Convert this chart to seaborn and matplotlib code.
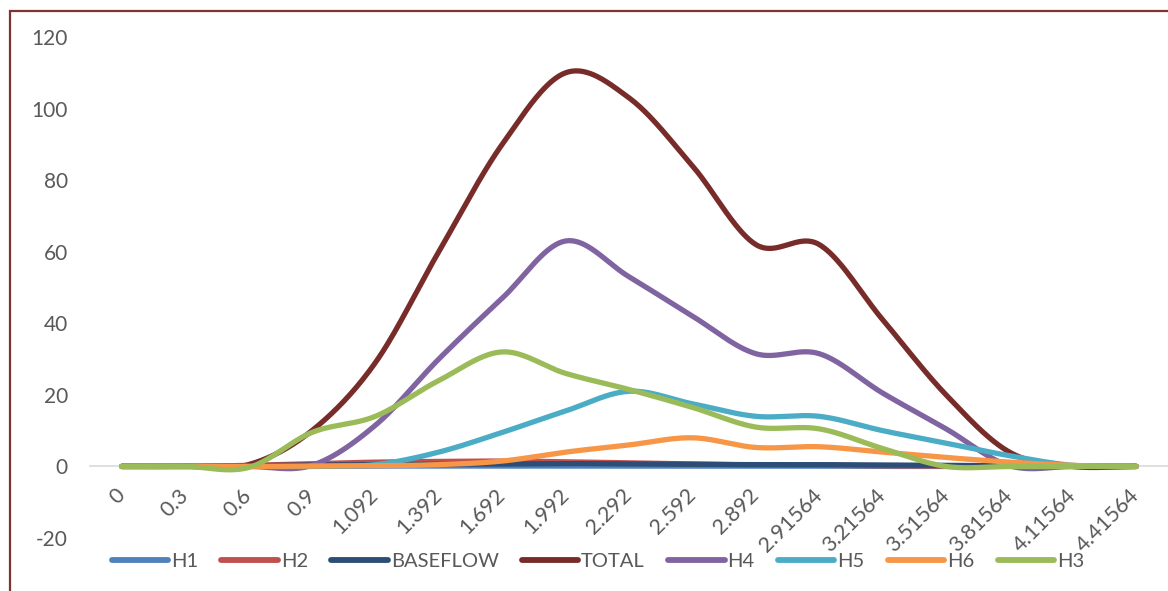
import numpy as np
import pandas as pd
import matplotlib
matplotlib.use("Agg")
import matplotlib.pyplot as plt
from matplotlib.patches import Rectangle
from matplotlib.lines import Line2D
import seaborn as sns

# Time steps (category labels on the x axis)
times = ["0", "0.3", "0.6", "0.9", "1.092", "1.392", "1.692", "1.992", "2.292",
         "2.592", "2.892", "2.91564", "3.21564", "3.51564", "3.81564", "4.11564", "4.41564"]

# Hydrograph ordinates per sub-basin
h1 = [0, 0, 0, 0, 0.1, 0.1, 0.1, 0.1, 0.1, 0.1, 0.1, 0.1, 0, 0, 0, 0, 0]
h2 = [0, 0, 0.3, 0.8, 1.2, 1.4, 1.5, 1.3, 1.0, 0.7, 0.4, 0.3, 0.2, 0.1, 0, 0, 0]
baseflow = [0, 0, 0.2, 0.4, 0.5, 0.6, 0.7, 0.8, 0.7, 0.6, 0.5, 0.5, 0.4, 0.3, 0.2, 0.1, 0]
total = [0, 0, 0.5, 10, 29, 60, 90, 110, 103, 84, 62, 62, 41, 20, 4, 0, 0]
h4 = [0, 0, 0, 0.3, 11.5, 30, 47, 63, 53, 42, 31.5, 31.5, 20.5, 10.5, 0.2, 0, 0]
h5 = [0, 0, 0, 0, 0.5, 4, 9.5, 15.5, 21, 17.5, 14, 14, 10, 6.5, 3, 0.3, 0]
h6 = [0, 0, 0, 0.1, 0.2, 0.5, 1.5, 4, 6, 8, 5.3, 5.5, 4, 2.5, 1.2, 0.3, 0]
h3 = [0, 0, -0.3, 9.5, 14, 24, 32, 26, 21.5, 16.5, 11, 10.5, 5, 0, 0, 0, 0]

series_names = ["H1", "H2", "BASEFLOW", "TOTAL", "H4", "H5", "H6", "H3"]
series_values = [h1, h2, baseflow, total, h4, h5, h6, h3]
colors = {"H1": "#4F81BD", "H2": "#C0504D", "BASEFLOW": "#2C4D75", "TOTAL": "#772C2A",
          "H4": "#8064A2", "H5": "#4BACC6", "H6": "#F79646", "H3": "#9BBB59"}


def smooth(vals, n=40):
    """Catmull-Rom style smoothing through every point (spreadsheet 'smoothed line')."""
    p = np.asarray(vals, dtype=float)
    pts = np.concatenate([[p[0]], p, [p[-1]]])
    xs, ys = [], []
    for i in range(len(p) - 1):
        p0, p1, p2, p3 = pts[i], pts[i + 1], pts[i + 2], pts[i + 3]
        c1 = p1 + (p2 - p0) / 6.0
        c2 = p2 - (p3 - p1) / 6.0
        t = np.linspace(0, 1, n, endpoint=False)
        y = ((1 - t) ** 3 * p1 + 3 * (1 - t) ** 2 * t * c1
             + 3 * (1 - t) * t ** 2 * c2 + t ** 3 * p2)
        xs.append(i + t)
        ys.append(y)
    xs.append([len(p) - 1])
    ys.append([p[-1]])
    return np.concatenate(xs), np.concatenate(ys)


frames = []
for name, vals in zip(series_names, series_values):
    x, y = smooth(vals)
    frames.append(pd.DataFrame({"step": x, "flow": y, "series": name}))
df = pd.concat(frames, ignore_index=True)

sns.set_theme(style="white")
plt.rcParams["font.family"] = ["Lato", "DejaVu Sans"]
plt.rcParams["axes.unicode_minus"] = False

fig = plt.figure(figsize=(11.68, 5.91), dpi=100)
ax = fig.add_axes([90 / 1168, 1 - 538 / 591, 1 - 90 / 1168, (538 - 37) / 591])

sns.lineplot(data=df, x="step", y="flow", hue="series", hue_order=series_names,
             palette=colors, estimator=None, sort=False, linewidth=3.8,
             legend=False, ax=ax, solid_capstyle="round")

for s in ax.spines.values():
    s.set_visible(False)
# Category axis crosses the value axis at zero
ax.spines["bottom"].set_visible(True)
ax.spines["bottom"].set_position(("data", 0))
ax.spines["bottom"].set_color("#D9D9D9")
ax.spines["bottom"].set_linewidth(1.2)
ax.spines["bottom"].set_zorder(0.5)

ax.set_xlim(-0.5, len(times) - 0.5)
ax.set_ylim(-20, 120)
ax.set_yticks(range(-20, 121, 20))
ax.set_xticks(range(len(times)))
ax.set_xticklabels(times, rotation=45, ha="right", va="center", rotation_mode="anchor")
ax.set_xlabel("")
ax.set_ylabel("")
ax.tick_params(axis="y", length=0, pad=16, labelsize=15, labelcolor="#595959")
ax.tick_params(axis="x", length=0, pad=18.5, labelsize=15.5, labelcolor="#595959")
ax.grid(False)

handles = [Line2D([0], [0], color=colors[n], lw=4.2, solid_capstyle="round") for n in series_names]
fig.legend(handles, series_names, loc="center", bbox_to_anchor=(598 / 1168, 1 - 561 / 591),
           ncol=8, frameon=False, fontsize=14.5, handlelength=2.8, handletextpad=0.15,
           columnspacing=1.15, labelcolor="#595959")

# Outer chart border
fig.patches.append(Rectangle((10 / 1168, -0.2), 1.5, 1.2 - 11 / 591,
                             transform=fig.transFigure, fill=False,
                             edgecolor="#7F3330", linewidth=1.6))

fig.savefig("out.png", dpi=100)
